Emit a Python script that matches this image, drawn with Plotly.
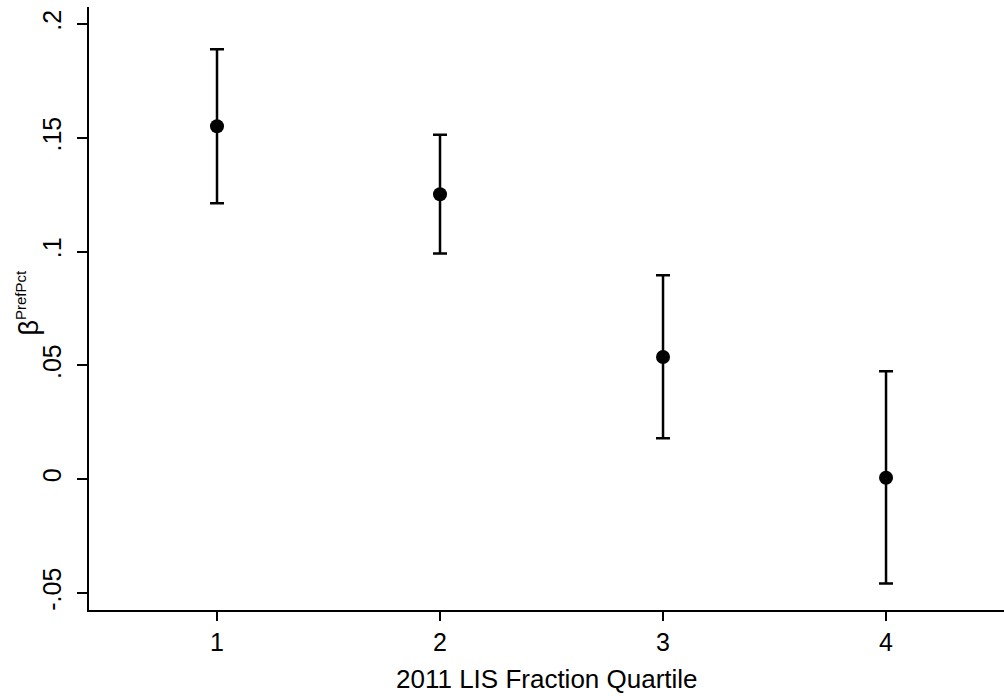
import plotly.graph_objects as go

quartiles = [1, 2, 3, 4]
beta = [0.1551, 0.1252, 0.0537, 0.0006]
ci_upper = [0.1889, 0.1514, 0.0896, 0.0474]
ci_lower = [0.1213, 0.0992, 0.0180, -0.0458]
x_ticks = [1, 2, 3, 4]
y_ticks = [-0.05, 0, 0.05, 0.1, 0.15, 0.2]
y_tick_text = ["-.05", "0", ".05", ".1", ".15", ".2"]

err_plus = [u - b for u, b in zip(ci_upper, beta)]
err_minus = [b - l for b, l in zip(beta, ci_lower)]

FONT = "Liberation Sans, Arial, sans-serif"

fig = go.Figure()
fig.add_trace(go.Scatter(
    x=quartiles, y=beta, mode="markers",
    marker=dict(color="black", size=14, symbol="circle"),
    error_y=dict(type="data", symmetric=False, array=err_plus, arrayminus=err_minus,
                 color="black", thickness=2.5, width=7),
    showlegend=False,
))

fig.update_layout(
    width=1004, height=696,
    margin=dict(l=89, r=0, t=7, b=86, autoexpand=False),
    paper_bgcolor="white", plot_bgcolor="white",
    font=dict(family=FONT, color="black", size=25),
    xaxis=dict(
        range=[0.426, 4.529], tickvals=x_ticks, ticktext=[str(v) for v in x_ticks],
        showline=True, linecolor="black", linewidth=1.5,
        ticks="outside", ticklen=9, tickwidth=1.5, tickcolor="black",
        showgrid=False, zeroline=False, automargin=False,
        tickfont=dict(size=25, family=FONT, color="black"),
    ),
    yaxis=dict(
        range=[-0.0575, 0.2075], tickvals=y_ticks, ticktext=y_tick_text,
        showline=True, linecolor="black", linewidth=1.5,
        ticks="outside", ticklen=10, tickwidth=1.5, tickcolor="black",
        tickangle=-90, ticklabelstandoff=6,
        showgrid=False, zeroline=False, automargin=False,
        tickfont=dict(size=25, family=FONT, color="black"),
    ),
)

fig.add_annotation(
    text="2011 LIS Fraction Quartile", xref="paper", yref="paper",
    x=0.5, y=0, yshift=-69, xanchor="center", yanchor="middle", showarrow=False,
    font=dict(size=26, family=FONT, color="black"),
)
fig.add_annotation(
    text="β<sup><span style='font-size:15px'>PrefPct</span></sup>", xref="paper", yref="paper",
    x=0, xshift=-61, y=0.5, yshift=6, xanchor="center", yanchor="middle", showarrow=False,
    textangle=-90, font=dict(size=27, family=FONT, color="black"),
)

fig.write_html("out.html")
